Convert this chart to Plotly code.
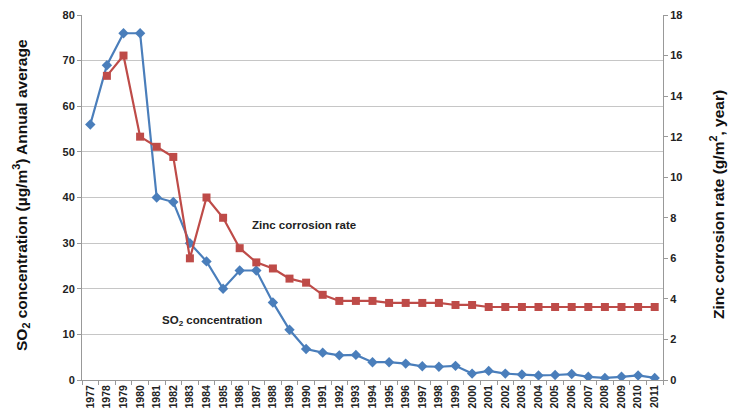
import plotly.graph_objects as go

years = [str(y) for y in range(1977, 2012)]
so2 = [56, 69, 76, 76, 40, 39, 30, 26, 20, 24, 24, 17, 11, 6.8, 6.0, 5.4, 5.5, 3.9, 3.9, 3.6,
       3.0, 2.9, 3.1, 1.4, 2.0, 1.4, 1.2, 1.0, 1.1, 1.3, 0.7, 0.45, 0.7, 1.0, 0.45]
zinc_years = years[1:]
zinc = [15.0, 16.0, 12.0, 11.5, 11.0, 6.0, 9.0, 8.0, 6.5, 5.8, 5.5, 5.0, 4.8, 4.2, 3.9, 3.9,
        3.9, 3.8, 3.8, 3.8, 3.8, 3.7, 3.7, 3.6, 3.6, 3.6, 3.6, 3.6, 3.6, 3.6, 3.6, 3.6, 3.6, 3.6]
left_ticks = list(range(0, 81, 10))
right_ticks = list(range(0, 19, 2))

FONT = "Liberation Sans"
BLUE = "#4A7EBB"
RED = "#BE4B48"

fig = go.Figure()
fig.add_trace(go.Scatter(x=years, y=so2, mode="lines+markers", name="SO2",
                         line=dict(color=BLUE, width=2.2),
                         marker=dict(symbol="diamond", size=8, color=BLUE)))
fig.add_trace(go.Scatter(x=zinc_years, y=zinc, mode="lines+markers", name="Zinc",
                         yaxis="y2",
                         line=dict(color=RED, width=2.2),
                         marker=dict(symbol="square", size=8, color=RED)))

L, R, T, B = 82, 68, 15, 36
PW = 731 - L - R
PH = 416 - T - B

def px_to_paper_x(px):
    return (px - L) / PW

def px_to_paper_y(py):
    return (416 - B - py) / PH

annotations = [
    dict(xref="paper", yref="y", x=px_to_paper_x(304), y=34,
         text="<b>Zinc corrosion rate</b>", showarrow=False,
         xanchor="center", yanchor="middle",
         font=dict(family=FONT, size=11.5, color="#222222")),
    dict(xref="paper", yref="y", x=px_to_paper_x(212), y=13,
         text="<b>SO<sub>2</sub> concentration</b>", showarrow=False,
         xanchor="center", yanchor="middle",
         font=dict(family=FONT, size=11.5, color="#222222")),
    dict(xref="paper", yref="paper", x=px_to_paper_x(21), y=px_to_paper_y(195), textangle=-90,
         text="<b>SO<sub>2</sub> concentration (µg/m<sup>3</sup>) Annual average</b>",
         showarrow=False, xanchor="center", yanchor="middle",
         font=dict(family=FONT, size=15.5, color="#111111")),
    dict(xref="paper", yref="paper", x=px_to_paper_x(717), y=px_to_paper_y(205), textangle=-90,
         text="<b>Zinc corrosion rate (g/m<sup>2</sup>, year)</b>",
         showarrow=False, xanchor="center", yanchor="middle",
         font=dict(family=FONT, size=15.5, color="#111111")),
]

fig.update_layout(
    width=731, height=416,
    margin=dict(l=L, r=R, t=T, b=B, autoexpand=False),
    paper_bgcolor="white", plot_bgcolor="white",
    showlegend=False,
    font=dict(family=FONT, color="#222222"),
    annotations=annotations,
    xaxis=dict(type="category", range=[-0.5, 34.5], tickangle=-90, automargin=False,
               tickvals=years, ticktext=["<b>%s</b>" % y for y in years],
               tickson="boundaries", ticks="outside", ticklen=4, tickcolor="#999999",
               showline=True, linecolor="#999999", showgrid=False,
               tickfont=dict(family=FONT, size=10.5, color="#222222")),
    yaxis=dict(range=[0, 80], tickvals=left_ticks, automargin=False,
               ticktext=["<b>%d</b>" % v for v in left_ticks],
               showgrid=True, gridcolor="#c6c6c6",
               showline=True, linecolor="#999999", ticks="outside", ticklen=4, tickcolor="#999999",
               tickfont=dict(family=FONT, size=11, color="#222222"),
               zeroline=False),
    yaxis2=dict(range=[0, 18], tickvals=right_ticks, automargin=False,
                ticktext=["<b>%d</b>" % v for v in right_ticks],
                overlaying="y", side="right", showgrid=False,
                showline=True, linecolor="#999999", ticks="outside", ticklen=4, tickcolor="#999999",
                tickfont=dict(family=FONT, size=11, color="#222222"),
                zeroline=False),
)

fig.write_html("out.html", config={"displayModeBar": False},
               post_script="document.body.style.margin='0';document.body.style.overflow='hidden';")
